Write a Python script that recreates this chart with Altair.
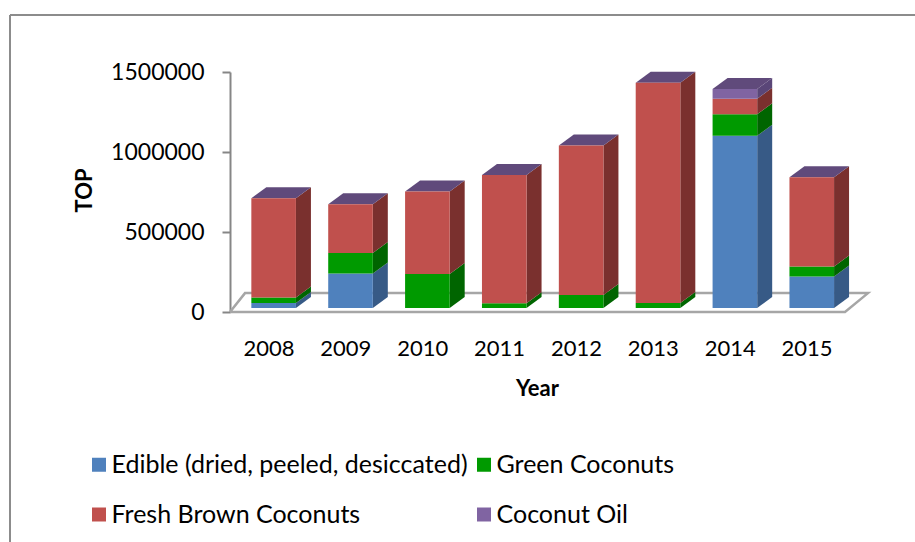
import altair as alt
import pandas as pd

# ---- data ----
years = [2008, 2009, 2010, 2011, 2012, 2013, 2014, 2015]
series = ["Edible (dried, peeled, desiccated)", "Green Coconuts",
          "Fresh Brown Coconuts", "Coconut Oil"]
edible = [31000, 216000, 0, 0, 0, 0, 1076000, 197000]
green = [35000, 127000, 212000, 29000, 81000, 31000, 135000, 62000]
fresh = [620000, 306000, 516000, 803000, 934000, 1377000, 97000, 558000]
oil = [0, 0, 0, 0, 0, 0, 61000, 0]
y_ticks = [0, 500000, 1000000, 1500000]

# ---- styles ----
front_colors = ["#4F81BD", "#009A00", "#C0504D", "#8064A2"]
side_colors = ["#375A86", "#006500", "#7A302E", "#5A4678"]
top_color = "#604A7B"
floor_color = "#A6A6A6"
FONT = "Lato"

# ---- geometry (pixel based pseudo-3D) ----
W, H = 615, 240
YMAX = 1500000
X0, X1 = 2007.5, 2015.5
XU = (X1 - X0) / W      # years per pixel
YU = YMAX / H           # value per pixel
BAR_OFF = 5.2 * XU
BAR_HW = 22.3 * XU
DEPTH_X = 15 * XU
DEPTH_Y = 11 * YU
LIFT = 4 * YU

values = [edible, green, fresh, oil]

front_rows, side_rows, top_rows = [], [], []
for i, yr in enumerate(years):
    base = LIFT
    xl = yr + BAR_OFF - BAR_HW
    xr = yr + BAR_OFF + BAR_HW
    for s, name in enumerate(series):
        v = values[s][i]
        if v > 0:
            front_rows.append(dict(series=name, xl=xl, xr=xr, yb=base, yt=base + v))
            seg = f"s{yr}_{s}"
            side_rows.append(dict(seg=seg, sx=xr, syb=base, syt=base + v, c=side_colors[s]))
            side_rows.append(dict(seg=seg, sx=xr + DEPTH_X, syb=base + DEPTH_Y,
                                  syt=base + v + DEPTH_Y, c=side_colors[s]))
        base += v
    top_rows.append(dict(yr=f"t{yr}", ty=base, txl=xl, txr=xr))
    top_rows.append(dict(yr=f"t{yr}", ty=base + DEPTH_Y, txl=xl + DEPTH_X, txr=xr + DEPTH_X))

front_df = pd.DataFrame(front_rows)
side_df = pd.DataFrame(side_rows)
top_df = pd.DataFrame(top_rows)

FB = 118000
floor_df = pd.DataFrame({
    "fx": [X0, X1, X1 + 23 * XU, X0 + 15 * XU, X0],
    "fy": [0, 0, FB, FB, 0],
    "o": [0, 1, 2, 3, 4],
})

xscale = alt.Scale(domain=[X0, X1], nice=False, zero=False)
yscale = alt.Scale(domain=[0, YMAX], nice=False, zero=True)

xaxis = alt.Axis(
    title="Year", values=years, format="d", domain=False, ticks=False, tickSize=0,
    grid=False, labelFont=FONT, labelFontSize=22, labelColor="black",
    labelBaseline="alphabetic", labelPadding=43, labelFlush=False,
    titleFont=FONT, titleFontSize=22, titleFontWeight="bold", titleColor="black",
    titleBaseline="alphabetic", titleY=83, titleX=307,
)
yaxis = alt.Axis(
    title="TOP", values=y_ticks, format="d", grid=False,
    domainColor="#868686", domainWidth=2, tickColor="#868686", tickWidth=2, tickSize=8,
    labelFont=FONT, labelFontSize=23, labelColor="black", labelPadding=18,
    titleFont=FONT, titleFontSize=22, titleFontWeight="bold", titleColor="black",
    titleAngle=-90, titleX=-146, titleY=118, titleAlign="center", titleBaseline="middle",
)

frame = pd.DataFrame({"k": [0]})
border_top = alt.Chart(frame).mark_rule(color="#8C8C8C", strokeWidth=2).encode(
    x=alt.value(-220), x2=alt.value(700), y=alt.value(-57))
border_left = alt.Chart(frame).mark_rule(color="#8C8C8C", strokeWidth=2).encode(
    x=alt.value(-220), y=alt.value(-57), y2=alt.value(480))

floor = alt.Chart(floor_df).mark_line(color=floor_color, strokeWidth=2.5, strokeJoin="miter").encode(
    x=alt.X("fx:Q", scale=xscale, axis=xaxis),
    y=alt.Y("fy:Q", scale=yscale, axis=yaxis),
    order="o:Q",
)

sides = alt.Chart(side_df).mark_area().encode(
    x=alt.X("sx:Q", scale=xscale, axis=xaxis),
    y=alt.Y("syb:Q", scale=yscale, axis=yaxis),
    y2="syt:Q",
    color=alt.Color("c:N", scale=None),
    detail="seg:N",
)

tops = alt.Chart(top_df).mark_area(orient="horizontal", color=top_color).encode(
    y=alt.Y("ty:Q", scale=yscale, axis=yaxis),
    x=alt.X("txl:Q", scale=xscale, axis=xaxis),
    x2="txr:Q",
    detail="yr:N",
)

fronts = alt.Chart(front_df).mark_rect().encode(
    x=alt.X("xl:Q", scale=xscale, axis=xaxis),
    x2="xr:Q",
    y=alt.Y("yb:Q", scale=yscale, axis=yaxis),
    y2="yt:Q",
    color=alt.Color(
        "series:N",
        scale=alt.Scale(domain=series, range=front_colors),
        legend=alt.Legend(
            title=None, orient="none", legendX=-143.5, legendY=380, columns=2,
            direction="horizontal",
            symbolType="square", symbolSize=196, symbolStrokeWidth=0,
            labelFont=FONT, labelFontSize=25, labelColor="black", labelOffset=0,
            labelLimit=600, columnPadding=3, rowPadding=24,
        ),
    ),
)

chart = alt.layer(border_top, border_left, floor, sides, tops, fronts).properties(
    width=W, height=H,
    padding={"left": 230, "top": 72, "right": 70, "bottom": 230},
    autosize="none",
).configure(font=FONT).configure_view(stroke=None)

chart.save("out.html", embed_options={"renderer": "svg", "actions": False})
